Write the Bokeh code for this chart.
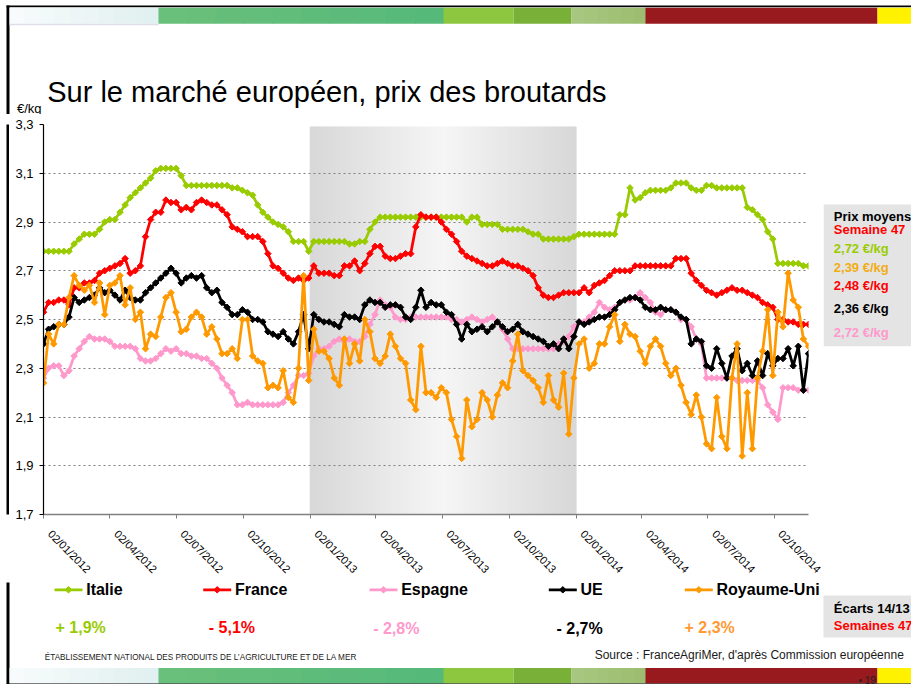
import math
import numpy as np
from bokeh.plotting import figure
from bokeh.layouts import column, row
from bokeh.models import Range1d, FixedTicker, Label
from bokeh.embed import file_html
from bokeh.resources import INLINE

# ---------------- data ----------------
start_date = "2012-01-02"      # first weekly observation (week 1 of 2012)
n_weeks = 151                  # up to week 47 of 2014

italie = [2.78, 2.78, 2.78, 2.78, 2.78, 2.78, 2.81, 2.83, 2.85, 2.85,
          2.85, 2.87, 2.90, 2.91, 2.91, 2.94, 2.97, 3.00, 3.02, 3.04,
          3.06, 3.08, 3.11, 3.12, 3.12, 3.12, 3.12, 3.09, 3.05, 3.05,
          3.05, 3.05, 3.05, 3.05, 3.05, 3.05, 3.05, 3.04, 3.04, 3.03,
          3.02, 3.01, 2.97, 2.94, 2.92, 2.90, 2.89, 2.88, 2.86, 2.82,
          2.82, 2.82, 2.78, 2.82, 2.82, 2.82, 2.82, 2.82, 2.82, 2.82,
          2.81, 2.81, 2.82, 2.82, 2.87, 2.90, 2.92, 2.92, 2.92, 2.92,
          2.92, 2.92, 2.92, 2.92, 2.92, 2.92, 2.92, 2.92, 2.92, 2.92,
          2.92, 2.92, 2.92, 2.90, 2.92, 2.92, 2.89, 2.89, 2.89, 2.89,
          2.87, 2.87, 2.87, 2.87, 2.87, 2.86, 2.85, 2.85, 2.83, 2.83,
          2.83, 2.83, 2.83, 2.83, 2.84, 2.85, 2.85, 2.85, 2.85, 2.85,
          2.85, 2.85, 2.85, 2.93, 2.93, 3.04, 2.99, 3.00, 3.02, 3.03,
          3.03, 3.03, 3.03, 3.04, 3.06, 3.06, 3.06, 3.04, 3.03, 3.03,
          3.05, 3.05, 3.04, 3.04, 3.04, 3.04, 3.04, 3.04, 2.96, 2.95,
          2.93, 2.91, 2.86, 2.83, 2.73, 2.73, 2.73, 2.73, 2.73, 2.72,
          2.72]

france = [2.53, 2.57, 2.57, 2.58, 2.58, 2.56, 2.63, 2.63, 2.65, 2.65,
          2.66, 2.69, 2.70, 2.71, 2.72, 2.73, 2.75, 2.69, 2.70, 2.72,
          2.84, 2.91, 2.94, 2.94, 2.99, 2.98, 2.98, 2.95, 2.96, 2.95,
          2.98, 2.99, 2.98, 2.97, 2.97, 2.95, 2.93, 2.88, 2.87, 2.86,
          2.84, 2.84, 2.84, 2.82, 2.77, 2.72, 2.71, 2.69, 2.67, 2.66,
          2.67, 2.66, 2.67, 2.72, 2.69, 2.69, 2.69, 2.68, 2.68, 2.72,
          2.72, 2.74, 2.70, 2.73, 2.77, 2.80, 2.80, 2.76, 2.75, 2.75,
          2.76, 2.77, 2.77, 2.88, 2.93, 2.92, 2.92, 2.92, 2.90, 2.87,
          2.85, 2.82, 2.78, 2.76, 2.75, 2.74, 2.73, 2.72, 2.72, 2.73,
          2.74, 2.73, 2.72, 2.72, 2.71, 2.70, 2.68, 2.63, 2.60, 2.59,
          2.59, 2.60, 2.61, 2.61, 2.61, 2.61, 2.63, 2.61, 2.64, 2.65,
          2.66, 2.68, 2.70, 2.70, 2.70, 2.70, 2.72, 2.72, 2.72, 2.72,
          2.72, 2.72, 2.72, 2.72, 2.75, 2.75, 2.75, 2.69, 2.66, 2.64,
          2.62, 2.61, 2.60, 2.61, 2.62, 2.63, 2.62, 2.62, 2.61, 2.60,
          2.59, 2.57, 2.56, 2.55, 2.50, 2.50, 2.49, 2.49, 2.48, 2.48,
          2.48]

espagne = [2.26, 2.30, 2.31, 2.31, 2.27, 2.29, 2.35, 2.38, 2.41, 2.43,
           2.42, 2.42, 2.42, 2.41, 2.39, 2.39, 2.39, 2.39, 2.38, 2.34,
           2.33, 2.33, 2.34, 2.36, 2.38, 2.37, 2.38, 2.36, 2.36, 2.35,
           2.35, 2.34, 2.34, 2.32, 2.30, 2.26, 2.23, 2.20, 2.15, 2.15,
           2.16, 2.15, 2.15, 2.15, 2.15, 2.15, 2.15, 2.16, 2.20, 2.23,
           2.27, 2.27, 2.28, 2.35, 2.38, 2.38, 2.39, 2.41, 2.42, 2.41,
           2.42, 2.41, 2.41, 2.43, 2.48, 2.52, 2.58, 2.56, 2.55, 2.51,
           2.50, 2.50, 2.51, 2.51, 2.51, 2.51, 2.51, 2.51, 2.51, 2.51,
           2.50, 2.50, 2.49, 2.50, 2.51, 2.50, 2.49, 2.50, 2.51, 2.49,
           2.46, 2.42, 2.38, 2.38, 2.38, 2.38, 2.38, 2.38, 2.38, 2.38,
           2.38, 2.40, 2.41, 2.43, 2.47, 2.49, 2.49, 2.51, 2.53, 2.57,
           2.55, 2.54, 2.55, 2.57, 2.58, 2.58, 2.59, 2.61, 2.59, 2.57,
           2.53, 2.52, 2.54, 2.54, 2.53, 2.50, 2.50, 2.47, 2.42, 2.40,
           2.26, 2.26, 2.26, 2.26, 2.26, 2.26, 2.25, 2.25, 2.25, 2.25,
           2.25, 2.22, 2.15, 2.12, 2.09, 2.22, 2.22, 2.22, 2.21, 2.21,
           2.21]

ue = [2.40, 2.46, 2.47, 2.48, 2.48, 2.51, 2.59, 2.57, 2.58, 2.59,
      2.60, 2.63, 2.61, 2.62, 2.60, 2.58, 2.62, 2.59, 2.58, 2.58,
      2.61, 2.63, 2.65, 2.67, 2.69, 2.71, 2.69, 2.65, 2.67, 2.68,
      2.67, 2.68, 2.63, 2.61, 2.62, 2.57, 2.55, 2.52, 2.52, 2.54,
      2.53, 2.50, 2.50, 2.49, 2.45, 2.44, 2.43, 2.45, 2.42, 2.40,
      2.45, 2.52, 2.38, 2.52, 2.50, 2.49, 2.49, 2.48, 2.47, 2.52,
      2.51, 2.51, 2.50, 2.56, 2.58, 2.57, 2.57, 2.55, 2.56, 2.56,
      2.55, 2.51, 2.50, 2.55, 2.62, 2.55, 2.57, 2.56, 2.56, 2.53,
      2.52, 2.48, 2.42, 2.48, 2.45, 2.46, 2.47, 2.45, 2.47, 2.49,
      2.47, 2.45, 2.46, 2.48, 2.45, 2.44, 2.43, 2.42, 2.41, 2.39,
      2.40, 2.38, 2.42, 2.38, 2.43, 2.49, 2.48, 2.49, 2.50, 2.51,
      2.51, 2.52, 2.54, 2.57, 2.58, 2.59, 2.59, 2.58, 2.55, 2.54,
      2.54, 2.55, 2.54, 2.54, 2.53, 2.51, 2.50, 2.40, 2.42, 2.41,
      2.31, 2.30, 2.38, 2.32, 2.26, 2.35, 2.38, 2.29, 2.32, 2.27,
      2.33, 2.27, 2.36, 2.31, 2.34, 2.34, 2.38, 2.31, 2.39, 2.21,
      2.36]

royaume_uni = [2.24, 2.44, 2.40, 2.48, 2.48, 2.59, 2.68, 2.64, 2.62, 2.64,
               2.57, 2.65, 2.52, 2.64, 2.65, 2.68, 2.56, 2.63, 2.50, 2.53,
               2.38, 2.44, 2.43, 2.51, 2.59, 2.61, 2.53, 2.45, 2.46, 2.51,
               2.53, 2.51, 2.44, 2.47, 2.42, 2.36, 2.36, 2.38, 2.34, 2.50,
               2.50, 2.35, 2.33, 2.32, 2.22, 2.23, 2.22, 2.29, 2.18, 2.16,
               2.30, 2.68, 2.25, 2.46, 2.37, 2.37, 2.34, 2.26, 2.23, 2.42,
               2.32, 2.40, 2.33, 2.50, 2.45, 2.34, 2.32, 2.35, 2.44, 2.39,
               2.34, 2.32, 2.17, 2.13, 2.39, 2.20, 2.20, 2.18, 2.22, 2.20,
               2.09, 2.02, 1.93, 2.17, 2.06, 2.09, 2.20, 2.17, 2.10, 2.19,
               2.24, 2.22, 2.33, 2.44, 2.29, 2.27, 2.25, 2.22, 2.16, 2.27,
               2.17, 2.14, 2.28, 2.03, 2.26, 2.40, 2.42, 2.30, 2.32, 2.40,
               2.40, 2.47, 2.52, 2.41, 2.48, 2.44, 2.43, 2.37, 2.32, 2.39,
               2.42, 2.39, 2.32, 2.27, 2.30, 2.23, 2.16, 2.11, 2.19, 2.10,
               1.99, 1.97, 2.18, 2.02, 1.97, 2.26, 2.40, 1.94, 2.20, 1.97,
               2.26, 2.37, 2.54, 2.27, 2.53, 2.47, 2.69, 2.58, 2.55, 2.42,
               2.39]

series_names = ["Italie", "France", "Espagne", "UE", "Royaume-Uni"]
series_values = [italie, france, espagne, ue, royaume_uni]
series_colors = ["#99cc00", "#ff0000", "#ff99cc", "#000000", "#ff9900"]

ecarts = ["+ 1,9%", "- 5,1%", "- 2,8%", "- 2,7%", "+ 2,3%"]
ecart_colors = ["#99cc00", "#ff0000", "#ff99cc", "#000000", "#ff9933"]

prix_moyens = ["2,72 €/kg", "2,39 €/kg", "2,48 €/kg", "2,36 €/kg", "2,72 €/kg"]
prix_colors = ["#99cc00", "#f2ac14", "#ff0000", "#000000", "#ff99cc"]

y_ticks = [1.7, 1.9, 2.1, 2.3, 2.5, 2.7, 2.9, 3.1, 3.3]
y_tick_labels = ["1,7", "1,9", "2,1", "2,3", "2,5", "2,7", "2,9", "3,1", "3,3"]

x_tick_dates = ["2012-01-02", "2012-04-02", "2012-07-02", "2012-10-02",
                "2013-01-02", "2013-04-02", "2013-07-02", "2013-10-02",
                "2014-01-02", "2014-04-02", "2014-07-02", "2014-10-02"]
x_tick_labels = ["02/01/2012", "02/04/2012", "02/07/2012", "02/10/2012",
                 "02/01/2013", "02/04/2013", "02/07/2013", "02/10/2013",
                 "02/01/2014", "02/04/2014", "02/07/2014", "02/10/2014"]

shade_start, shade_end = "2013-01-02", "2014-01-02"

for s in series_values:
    assert len(s) == n_weeks


def to_ms(d):
    return float(np.datetime64(d, "ms").astype("int64"))


dates = np.datetime64(start_date) + np.arange(n_weeks) * np.timedelta64(7, "D")
x_ms = dates.astype("datetime64[ms]").astype("int64").astype(float)
x0, x1 = float(x_ms[0]), float(x_ms[-1])
y0, y1 = 1.7, 3.3

FONT = "Liberation Sans"
W, H = 911, 684
T_H = 114                     # header height
L_W = 9                       # slide border column
M_W, M_H = 814, 468           # chart figure
BL, BR, BT, BB = 34, 15, 10, 66
R_W = W - L_W - M_W           # right panel width
B_H = H - T_H - M_H           # footer height


def canvas(w, h):
    f = figure(width=w, height=h, x_range=Range1d(0, w), y_range=Range1d(h, 0),
               min_border=0, title=None, x_axis_location=None,
               y_axis_location=None, output_backend="svg",
               toolbar_location=None, background_fill_color="white",
               border_fill_color="white")
    f.xgrid.visible = False
    f.ygrid.visible = False
    f.outline_line_color = None
    return f


def text(f, s, x, y, size, color="black", bold=False, align="left",
         baseline="middle", font=FONT):
    f.add_layout(Label(x=x, y=y, text=s, text_font=font,
                       text_font_size=size, text_color=color,
                       text_font_style="bold" if bold else "normal",
                       text_align=align, text_baseline=baseline))


def rect(f, l, r, t, b, color):
    f.quad(left=[l], right=[r], top=[t], bottom=[b], fill_color=color,
           line_color=None)


def gradient(f, l, r, t, b, c_from, c_to, n=10):
    xs = np.linspace(l, r, n + 1)
    for i in range(n):
        k = (i + 0.5) / n
        c = tuple(int(round(c_from[j] + (c_to[j] - c_from[j]) * k)) for j in range(3))
        rect(f, xs[i], xs[i + 1] + 0.6, t, b, "#%02x%02x%02x" % c)


def banner(f, t, b):
    gradient(f, 9, 158, t, b, (248, 252, 252), (224, 239, 239))
    gradient(f, 158, 443, t, b, (106, 192, 122), (84, 185, 122))
    rect(f, 443, 513, t, b, "#8dc63f")
    rect(f, 513, 571, t, b, "#78b038")
    gradient(f, 571, 645, t, b, (168, 200, 130), (156, 189, 110), n=6)
    rect(f, 645, 877, t, b, "#981a1f")
    rect(f, 877, W, t, b, "#fff200")


# ---------------- header ----------------
T = canvas(W, T_H)
rect(T, 6, W, 5, 6.8, "#000000")
rect(T, 6, 9, 5, T_H + 1, "#000000")
banner(T, 7.3, 23.3)
rect(T, 9, 158, 23.3, 24.8, "#dedeea")
text(T, "Sur le marché européen, prix des broutards", 46.7, 91.7, "29px",
     baseline="alphabetic")
text(T, "€/kg", 16.5, 107.5, "13px")

# ---------------- left slide border ----------------
Lf = canvas(L_W, M_H)
rect(Lf, 6, 9, -1, M_H + 1, "#000000")

# ---------------- chart ----------------
M = figure(width=M_W, height=M_H, min_border_left=BL, min_border_right=BR,
           min_border_top=BT, min_border_bottom=BB, title=None,
           x_range=Range1d(x0, x1), y_range=Range1d(y0, y1),
           output_backend="svg", toolbar_location=None,
           background_fill_color="white", border_fill_color="white")
M.outline_line_color = None

# shaded year 2013 (horizontal grey gradient)
n_strips = 60
edges = np.linspace(to_ms(shade_start), to_ms(shade_end), n_strips + 1)
cols = []
for i in range(n_strips):
    k = (i + 0.5) / n_strips
    d = abs(2 * k - 1)
    g = int(round(245 - (245 - 216) * d))
    cols.append("#%02x%02x%02x" % (g, g, g))
M.quad(left=edges[:-1], right=edges[1:], bottom=y0, top=3.29,
       fill_color=cols, line_color=cols, line_width=1, level="image")

M.yaxis.ticker = FixedTicker(ticks=y_ticks)
M.yaxis.major_label_overrides = dict(zip(y_ticks, y_tick_labels))
M.yaxis.axis_line_color = "black"
M.yaxis.axis_line_width = 1.2
M.yaxis.major_tick_line_color = "black"
M.yaxis.major_tick_out = 4
M.yaxis.major_tick_in = 0
M.yaxis.minor_tick_line_color = None
M.yaxis.major_label_standoff = 6
M.yaxis.major_label_text_font = FONT
M.yaxis.major_label_text_font_size = "13px"
M.yaxis.major_label_text_color = "black"

x_ticks = [to_ms(d) for d in x_tick_dates]
pad = "\u00a0\u00a0\u00a0"
M.xaxis.ticker = FixedTicker(ticks=x_ticks)
M.xaxis.major_label_overrides = {t: pad + s for t, s in zip(x_ticks, x_tick_labels)}
M.xaxis.major_label_orientation = -math.pi / 4
M.xaxis.axis_line_color = "#808080"
M.xaxis.axis_line_width = 1.5
M.xaxis.major_tick_line_color = "#808080"
M.xaxis.major_tick_out = 4
M.xaxis.major_tick_in = 0
M.xaxis.minor_tick_line_color = None
M.xaxis.major_label_standoff = 7
M.xaxis.major_label_text_font = FONT
M.xaxis.major_label_text_font_size = "11px"
M.xaxis.major_label_text_color = "black"

M.xgrid.visible = False
M.ygrid.ticker = FixedTicker(ticks=y_ticks[1:])
M.ygrid.grid_line_color = "#808080"
M.ygrid.grid_line_dash = "2 3"
M.ygrid.grid_line_width = 1

for vals, col in zip(series_values, series_colors):
    M.line(x_ms, vals, line_color=col, line_width=2.75)
    M.scatter(x_ms, vals, marker="square", size=4.6, angle=math.pi / 4,
              fill_color=col, line_color=col)

# ---------------- right panel ----------------
R = canvas(R_W, M_H)
rect(R, 0, R_W, 96, 266, "#e4e4e4")
text(R, "Prix moyens", 10.3, 110, "13px", "black", bold=True)
text(R, "Semaine 47", 10.3, 126, "13px", "#ff0000", bold=True)
for s, c, yy in zip(prix_moyens, prix_colors, [148.7, 171, 193.3, 220.3, 249.3]):
    text(R, s, 10.3, yy, "13px", c, bold=True)

# ---------------- footer (legend, variations, sources) ----------------
B = canvas(W, B_H)
rect(B, 6, 9, -1, B_H + 1, "#000000")
legend_x = [54, 202.7, 369, 548.3, 684.3]
ly = 7.3
for name, col, lx in zip(series_names, series_colors, legend_x):
    B.line([lx, lx + 28], [ly, ly], line_color=col, line_width=2.75)
    B.scatter([lx + 14], [ly], marker="square", size=4.6, angle=math.pi / 4,
              fill_color=col, line_color=col)
    text(B, name, lx + 31.7, ly, "16px", "black", bold=True)

for s, c, xx, yy in zip(ecarts, ecart_colors, [55, 208.3, 372.7, 556, 684],
                        [44.7, 45, 46.3, 45.7, 44.7]):
    text(B, s, xx, yy, "16px", c, bold=True)

rect(B, 823, W, 13, 55, "#e4e4e4")
text(B, "Écarts 14/13", 833.3, 26.3, "13px", "black", bold=True)
text(B, "Semaines 47", 833.3, 43, "13px", "#ff0000", bold=True)

text(B, "ÉTABLISSEMENT NATIONAL DES PRODUITS DE L’AGRICULTURE ET DE LA MER",
     44.3, 74.7, "8.2px", "#222222")
text(B, "Source : FranceAgriMer, d'après Commission européenne", 903.3, 72,
     "12px", "#1a1a1a", align="right")
banner(B, 85.5, 101)
rect(B, 6, W, 101, B_H + 1, "#000000")
text(B, "• 19", 858, 97.5, "10px", "#222222")

page = column(T, row(Lf, M, R), B)
open("out.html", "w").write(file_html(page, INLINE))
